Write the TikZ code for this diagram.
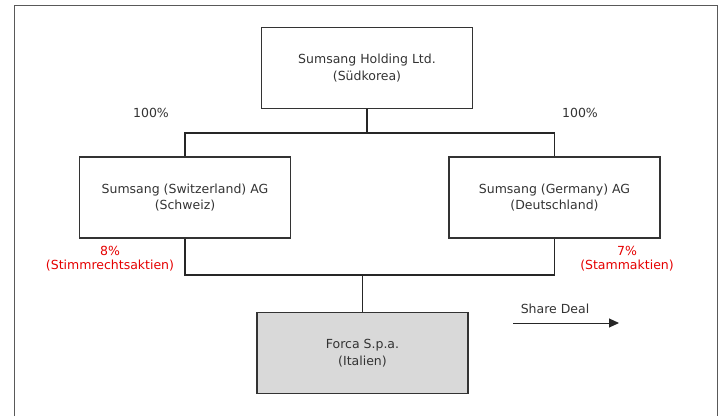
\documentclass[tikz,border=0pt]{standalone}
\usepackage{fontspec}
\setmainfont{DejaVu Sans}
\usetikzlibrary{arrows.meta}
\begin{document}
\begin{tikzpicture}[x=1pt,y=-1pt,
  entity/.style={draw=black!80, line width=1.1pt, minimum width=211pt,
    minimum height=81pt, inner sep=0pt, align=center,
    font=\fontsize{12.5}{16.5}\selectfont, text=black!80},
  label/.style={inner sep=0pt, align=center,
    font=\fontsize{12.5}{14}\selectfont, text=black!80},
  redlabel/.style={label, text=red!90!black},
  link/.style={draw=black!85, line width=1.1pt}]
  \useasboundingbox (0,0) rectangle (721,416);
  % outer frame, open at the bottom
  \draw[black!65, line width=1pt] (14,416) -- (14,5) -- (717,5) -- (717,416);

  % companies
  \node[entity] (holding) at (367,68) {Sumsang Holding Ltd.\\(Südkorea)};
  \node[entity] (swiss) at (185,197.5) {Sumsang (Switzerland) AG\\(Schweiz)};
  \node[entity] (german) at (554.5,197.5) {Sumsang (Germany) AG\\(Deutschland)};
  \node[entity, fill=black!15] (forca) at (362.5,353) {Forca S.p.a.\\(Italien)};

  % ownership lines
  \coordinate (jtop) at (367,133);
  \coordinate (jbot) at (362.5,275);
  \draw[link] (holding.south) -- (jtop);
  \draw[link] (swiss.north) |- (jtop);
  \draw[link] (german.north) |- (jtop);
  \draw[link] (swiss.south) |- (jbot);
  \draw[link] (german.south) |- (jbot);
  \draw[link] (jbot) -- (forca.north);

  % shares
  \node[label] (pctswiss) at (151,113) {100\%};
  \node[label] (pctgerman) at (580,113) {100\%};
  \node[redlabel] (voting) at (110,259) {8\%\\(Stimmrechtsaktien)};
  \node[redlabel] (common) at (627,259) {7\%\\(Stammaktien)};

  % legend
  \node[label] (deal) at (555,309) {Share Deal};
  \coordinate (dealA) at (513,323);
  \coordinate (dealB) at (619,323);
  \draw[link, line width=1pt, -{Triangle[length=10pt,width=9pt]}] (dealA) -- (dealB);
\end{tikzpicture}
\end{document}
